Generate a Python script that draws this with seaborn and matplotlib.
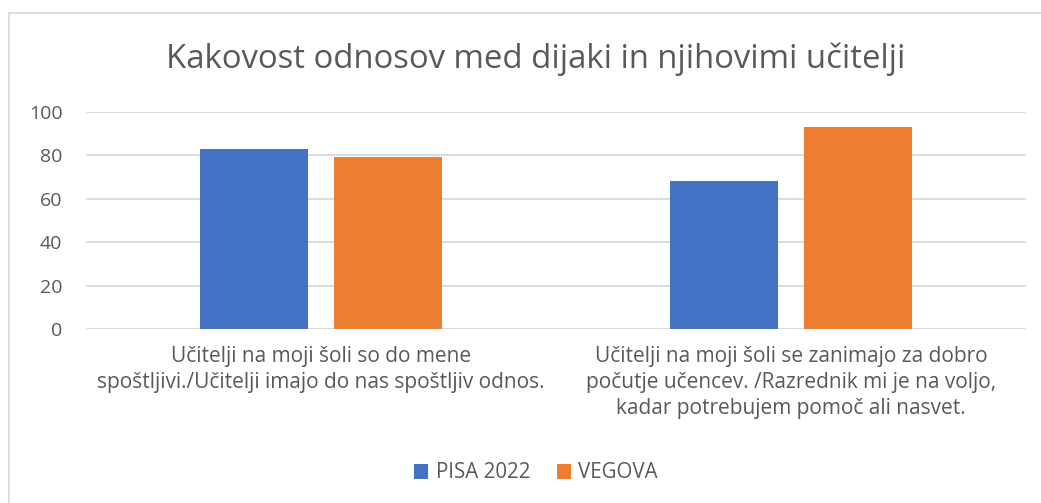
import matplotlib
matplotlib.use("Agg")
import matplotlib.pyplot as plt
import seaborn as sns
import pandas as pd
from matplotlib.lines import Line2D
from matplotlib.patches import Patch

categories = [
    "Učitelji na moji šoli so do mene\nspoštljivi./Učitelji imajo do nas spoštljiv odnos.",
    "Učitelji na moji šoli se zanimajo za dobro\npočutje učencev. /Razrednik mi je na voljo,\nkadar potrebujem pomoč ali nasvet.",
]
series_names = ["PISA 2022", "VEGOVA"]
pisa_values = [83, 68]
vegova_values = [79, 93]
y_ticks = [0, 20, 40, 60, 80, 100]
title = "Kakovost odnosov med dijaki in njihovimi učitelji"

colors = ["#4472C4", "#ED7D31"]
text_color = "#595959"
grid_color = "#D9D9D9"

df = pd.DataFrame({
    "kategorija": categories * 2,
    "serija": [series_names[0]] * 2 + [series_names[1]] * 2,
    "vrednost": pisa_values + vegova_values,
})

sns.set_theme(style="white")
plt.rcParams["font.family"] = ["Open Sans", "DejaVu Sans"]

fig = plt.figure(figsize=(10.41, 5.03), dpi=100)
ax = fig.add_axes([86 / 1041, 1 - 329 / 503, 940 / 1041, (329 - 111.7) / 503])

sns.barplot(data=df, x="kategorija", y="vrednost", hue="serija",
            palette=colors, width=0.57, gap=0.2, saturation=1,
            linewidth=0, ax=ax, legend=False)

ax.set_xlim(-0.5, 1.5)
ax.set_ylim(0, 100)
ax.set_yticks(y_ticks)
ax.set_axisbelow(True)
ax.yaxis.grid(True, color=grid_color, linewidth=1.3)
ax.xaxis.grid(False)
for s in ax.spines.values():
    s.set_visible(False)
ax.set_xlabel("")
ax.set_ylabel("")
ax.tick_params(axis="y", labelsize=14, colors=text_color, length=0, pad=17)
ax.tick_params(axis="x", labelsize=15, colors=text_color, length=0, pad=12)
for lbl in ax.get_xticklabels():
    lbl.set_linespacing(1.32)
    lbl.set_horizontalalignment("center")

fig.text(536 / 1041, 1 - 59 / 503, title, ha="center", va="center",
         fontsize=23.7, color=text_color)

handles = [Patch(facecolor=c, edgecolor="none") for c in colors]
fig.legend(handles, series_names, loc="center", bbox_to_anchor=(536 / 1041, 1 - 473 / 503),
           ncol=2, frameon=False, fontsize=14.8, labelcolor=text_color,
           handlelength=0.7, handleheight=0.7, handletextpad=0.35, columnspacing=1.3)

# chart-area frame (left and top edges)
fig.add_artist(Line2D([8.5 / 1041, 8.5 / 1041], [0, 1 - 12.5 / 503],
                      transform=fig.transFigure, color=grid_color, linewidth=1.3))
fig.add_artist(Line2D([8.5 / 1041, 1], [1 - 12.5 / 503, 1 - 12.5 / 503],
                      transform=fig.transFigure, color=grid_color, linewidth=1.3))

fig.savefig("out.png", dpi=100, facecolor="white")
